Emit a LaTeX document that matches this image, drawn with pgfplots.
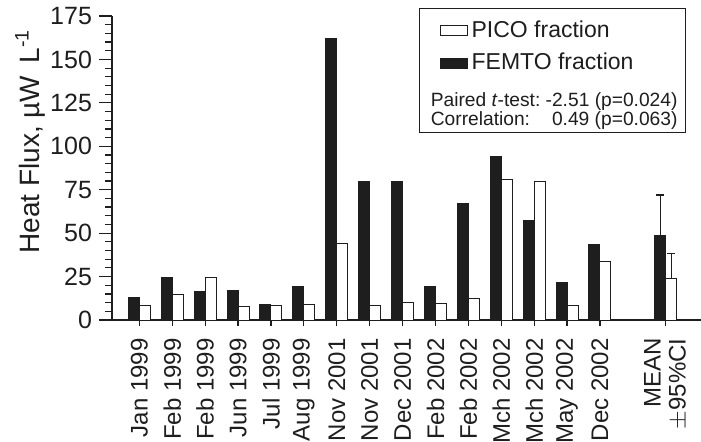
\documentclass[border=0pt]{standalone}
\usepackage{fontspec}
\setmainfont{Liberation Sans}
\usepackage{pgfplots}
\pgfplotsset{compat=1.18}
\definecolor{ink}{HTML}{1E1E1E}
\begin{document}
\begin{tikzpicture}
\begin{axis}[
  at={(0pt,0pt)}, anchor=south west,
  scale only axis, width=294.5pt, height=152pt,
  xmin=-0.83, xmax=17.07, ymin=0, ymax=175,
  axis x line=bottom, axis y line=left,
  axis line style={-, line width=0.6pt, color=ink},
  ytick={0,25,...,175}, minor y tick num=4,
  tick align=outside,
  major tick length=6.5pt, minor tick length=3.5pt,
  tick style={line width=0.6pt, color=ink},
  xtick style={/pgfplots/major tick length=3pt},
  /pgf/number format/assume math mode=true,
  yticklabel style={font=\fontsize{12.5}{14}\selectfont, color=ink},
  xtick={0,1,2,3,4,5,6,7,8,9,10,11,12,13,14,16},
  xticklabels={Jan 1999,Feb 1999,Feb 1999,Jun 1999,Jul 1999,Aug 1999,Nov 2001,Nov 2001,Dec 2001,Feb 2002,Feb 2002,Mch 2002,Mch 2002,May 2002,Dec 2002,{MEAN\\$\pm$95\%CI}},
  xticklabel style={rotate=90, anchor=east, align=right, font=\fontsize{12}{12.5}\selectfont, color=ink, inner sep=2.5pt},
  ylabel={Heat Flux, \textmu W\, L\textsuperscript{-1}},
  ylabel style={at={(axis description cs:-0.139,0.587)}, anchor=center, rotate=0, font=\fontsize{14}{16}\selectfont, color=ink},
  ybar=0pt, bar width=5.5pt,
  legend image code/.code={\path (0pt,0pt); \draw[#1, line width=0.5pt] (8pt,-2.5pt) rectangle (21.5pt,2.5pt);},
  legend style={at={(1,1)}, anchor=north east, xshift=-7.5pt, yshift=4pt,
    draw=ink, line width=0.5pt, inner xsep=2pt, inner ysep=4pt,
    font=\fontsize{11.5}{13}\selectfont, text=ink,
    cells={anchor=west}, row sep=2.5pt},
  legend cell align=left,
]
\addplot[fill=white, draw=ink, line width=0.5pt, bar shift=2.75pt,
  error bars/.cd, y dir=plus, y explicit, error mark=-, error mark options={rotate=90, mark size=2pt, line width=0.6pt, color=ink}, error bar style={line width=0.6pt, color=ink}]
  coordinates {(0,8.3) (1,14.4) (2,24.6) (3,7.7) (4,8.1) (5,9.2) (6,44.1) (7,8.3) (8,10.2) (9,9.6) (10,12.3) (11,80.6) (12,79.6) (13,8.1) (14,33.6) (16,24.0) +- (0,14.4)};
\addlegendentry{PICO fraction}
\addplot[fill=ink, draw=ink, line width=0.5pt, bar shift=-2.75pt,
  error bars/.cd, y dir=plus, y explicit, error mark=-, error mark options={rotate=90, mark size=2pt, line width=0.6pt, color=ink}, error bar style={line width=0.6pt, color=ink}]
  coordinates {(0,12.9) (1,24.4) (2,16.3) (3,16.7) (4,9.2) (5,19.2) (6,162.2) (7,79.6) (8,79.6) (9,19.2) (10,67.2) (11,94.0) (12,57.2) (13,21.7) (14,43.2) (16,48.9) +- (0,23.1)};
\addlegendentry{FEMTO fraction}
\addlegendimage{empty legend}
\addlegendentry{\hspace*{-20.4pt}\fontsize{9.6}{8.6}\selectfont\begin{tabular}{@{}l@{\ }r@{\ }l@{}}\rule{0pt}{10.5pt}Paired \textit{t}-test: & -2.51 & (p=0.024)\\ Correlation: & 0.49 & (p=0.063)\rule[-7pt]{0pt}{0pt}\end{tabular}}
\end{axis}
\pgfresetboundingbox
\useasboundingbox (-56pt,-60.5pt) rectangle (294.5pt,160pt);
\end{tikzpicture}
\end{document}
